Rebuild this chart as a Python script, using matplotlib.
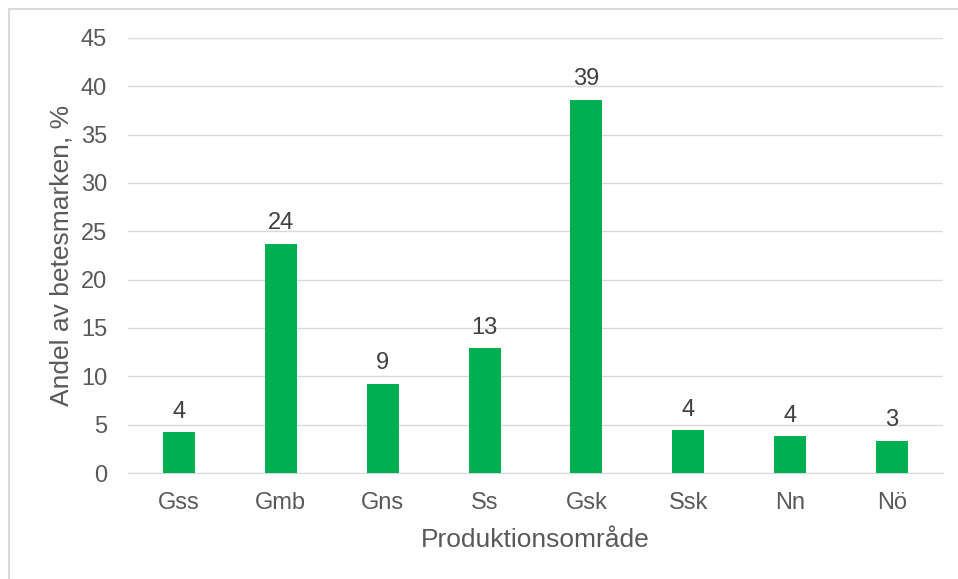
import matplotlib
matplotlib.use("Agg")
import matplotlib.pyplot as plt
from matplotlib.patches import Rectangle

plt.rcParams['font.family'] = ['Liberation Sans', 'DejaVu Sans']

categories = ["Gss", "Gmb", "Gns", "Ss", "Gsk", "Ssk", "Nn", "Nö"]
values = [4.2, 23.7, 9.2, 12.9, 38.6, 4.4, 3.8, 3.3]
labels = ["4", "24", "9", "13", "39", "4", "4", "3"]
yticks = [0, 5, 10, 15, 20, 25, 30, 35, 40, 45]

W, H = 958, 579
fig = plt.figure(figsize=(W / 100, H / 100), dpi=100)
fig.patch.set_facecolor("white")

# outer frame
fig.add_artist(Rectangle((9 / W, -0.1), 1.2, (H - 9) / H + 0.1, transform=fig.transFigure,
                         fill=False, edgecolor="#d9d9d9", linewidth=1.5))

ax = fig.add_axes([128 / W, (H - 473) / H, (943 - 128) / W, (473 - 38) / H])
x = list(range(len(categories)))
ax.bar(x, values, width=0.315, color="#00b050", zorder=3)
for xi, v, lab in zip(x, values, labels):
    ax.text(xi, v + 1.0, lab, ha="center", va="bottom", fontsize=17, color="#404040")

ax.set_xlim(-0.5, len(categories) - 0.5)
ax.set_ylim(0, 45)
ax.set_yticks(yticks)
ax.set_xticks(x)
ax.set_xticklabels(categories)
ax.tick_params(axis="both", length=0, labelsize=17, labelcolor="#595959")
ax.tick_params(axis="y", pad=15)
ax.tick_params(axis="x", pad=14)
ax.grid(axis="y", color="#d9d9d9", linewidth=1, zorder=0)
for s in ["top", "right", "left"]:
    ax.spines[s].set_visible(False)
ax.spines["bottom"].set_color("#d9d9d9")
ax.set_xlabel("Produktionsområde", fontsize=19, color="#595959", labelpad=10)
ax.set_ylabel("Andel av betesmarken, %", fontsize=19, color="#595959", labelpad=5)

fig.savefig("out.png", dpi=100)
